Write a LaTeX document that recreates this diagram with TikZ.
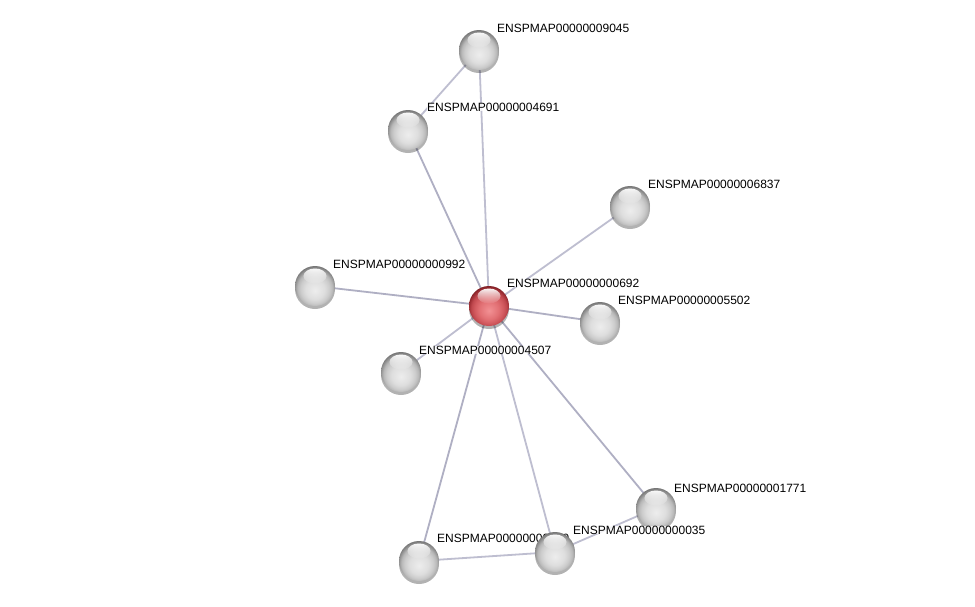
\documentclass[tikz,border=0pt]{standalone}
\usepackage{fontspec}
\setmainfont{Liberation Sans}
\usetikzlibrary{fadings}
\pgfdeclareradialshading{graysph}{\pgfpoint{0bp}{-6bp}}{%
  color(0bp)=(white!93!black); color(12bp)=(white!87!black); color(18bp)=(white!80!black);
  color(22bp)=(white!72!black); color(25bp)=(white!58!black); color(28bp)=(white!45!black); color(50bp)=(white!45!black)}
\pgfdeclareradialshading{redsph}{\pgfpoint{0bp}{-6bp}}{%
  color(0bp)=(rgb,255:red,242;green,145;blue,148); color(12bp)=(rgb,255:red,226;green,112;blue,116);
  color(18bp)=(rgb,255:red,210;green,90;blue,95); color(22bp)=(rgb,255:red,192;green,72;blue,78);
  color(25bp)=(rgb,255:red,160;green,48;blue,54); color(28bp)=(rgb,255:red,125;green,30;blue,35); color(50bp)=(rgb,255:red,125;green,30;blue,35)}
\begin{document}
\begin{tikzpicture}[x=1pt,y=-1pt,
  edge/.style={draw={rgb,255:red,190;green,190;blue,208}, line width=1.8pt},
  darkedge/.style={draw={rgb,255:red,175;green,175;blue,195}, line width=1.8pt},
  gball/.style={circle, minimum size=40pt, inner sep=0pt, shading=graysph},
  rball/.style={circle, minimum size=40pt, inner sep=0pt, shading=redsph},
  lab/.style={anchor=west, inner sep=0pt, font=\fontsize{12}{14}\selectfont, fill=white, fill opacity=0.8, text opacity=1},
  shad/.style={fill=black, opacity=0.3},
  gloss/.style={fill=white, path fading=south, opacity=0.95}
]
\useasboundingbox[fill=white] (0,0) rectangle (975,606);
% coordinates
\coordinate (p9045) at (479,50);
\coordinate (p4691) at (408,130);
\coordinate (p6837) at (630,206);
\coordinate (p992) at (315,286);
\coordinate (p692) at (489,306);
\coordinate (p5502) at (600,322);
\coordinate (p4507) at (401,372);
\coordinate (p1771) at (656,508);
\coordinate (pbl) at (419,561);
\coordinate (pbm) at (555,552);
% edges
\draw[edge] (p9045) -- (p4691);
\draw[edge] (p9045) -- (p692);
\draw[darkedge] (p4691) -- (p692);
\draw[edge] (p6837) -- (p692);
\draw[darkedge] (p992) -- (p692);
\draw[darkedge] (p5502) -- (p692);
\draw[edge] (p4507) -- (p692);
\draw[darkedge] (p1771) -- (p692);
\draw[darkedge] (pbl) -- (p692);
\draw[edge] (pbm) -- (p692);
\draw[edge] (pbl) -- (pbm);
\draw[edge] (pbm) -- (p1771);
% labels
\node[lab] (l9045) at (497,28) {ENSPMAP00000009045};
\node[lab] (l4691) at (427,107) {ENSPMAP00000004691};
\node[lab] (l6837) at (648,184) {ENSPMAP00000006837};
\node[lab] (l992) at (333,264) {ENSPMAP00000000992};
\node[lab] (l692) at (507,283) {ENSPMAP00000000692};
\node[lab] (l5502) at (618,300) {ENSPMAP00000005502};
\node[lab] (l4507) at (419,350) {ENSPMAP00000004507};
\node[lab] (l1771) at (674,488) {ENSPMAP00000001771};
\node[lab] (lbl) at (437,538) {ENSPMAP00000000059};
% shadows
\foreach \p in {p9045,p4691,p6837,p992,p692,p5502,p4507,p1771,pbl,pbm}
  \fill[shad] ([yshift=-3pt]\p) circle (20pt);
% nodes
\node[gball] (n9045) at (p9045) {};
\node[gball] (n4691) at (p4691) {};
\node[gball] (n6837) at (p6837) {};
\node[gball] (n992) at (p992) {};
\node[rball] (n692) at (p692) {};
\node[gball] (n5502) at (p5502) {};
\node[gball] (n4507) at (p4507) {};
\node[gball] (n1771) at (p1771) {};
\node[gball] (nbl) at (pbl) {};
\node[gball] (nbm) at (pbm) {};
% gloss highlights
\foreach \n in {n9045,n4691,n6837,n992,n692,n5502,n4507,n1771,nbl,nbm}
  \fill[gloss] ([yshift=10pt]\n.center) ellipse (11.5pt and 7.5pt);
\node[lab] (l035) at (573,530) {ENSPMAP00000000035};
\end{tikzpicture}
\end{document}
